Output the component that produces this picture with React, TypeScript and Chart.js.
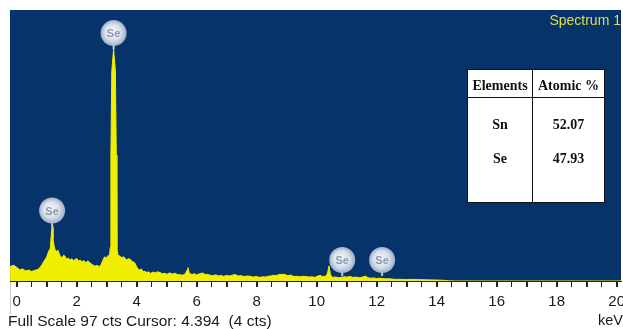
import React, { useEffect, useRef } from "react";
import { Chart, registerables } from "chart.js";

Chart.register(...registerables);

// Spectrum: energies (keV) and counts (cts)
const energies: number[] = [
  -0.22, -0.1, 0.0, 0.1, 0.2, 0.3, 0.4, 0.5, 0.6, 0.7, 0.78, 0.85, 0.94, 1.0, 1.04, 1.08, 1.12, 1.15, 1.18, 1.21,
  1.25, 1.28, 1.33, 1.38, 1.43, 1.48, 1.51, 1.56, 1.61, 1.66, 1.72, 1.78, 1.84, 1.9, 1.96, 2.01, 2.06, 2.12, 2.18,
  2.24, 2.3, 2.38, 2.45, 2.52, 2.61, 2.68, 2.75, 2.82, 2.88, 2.93, 2.98, 3.04, 3.09, 3.12, 3.14, 3.17, 3.23,
  3.29, 3.32, 3.34, 3.38, 3.44, 3.5, 3.55, 3.61, 3.67, 3.72, 3.78, 3.84, 3.9, 3.94, 3.99, 4.04, 4.1, 4.16,
  4.22, 4.28, 4.34, 4.4, 4.46, 4.54, 4.62, 4.7, 4.78, 4.86, 4.94, 5.01, 5.1, 5.2, 5.28, 5.36, 5.45, 5.54, 5.62,
  5.68, 5.71, 5.75, 5.84, 5.92, 6.0, 6.11, 6.2, 6.28, 6.36, 6.44, 6.54, 6.64, 6.72, 6.8, 6.9, 7.0, 7.1, 7.2, 7.28,
  7.38, 7.48, 7.58, 7.68, 7.78, 7.88, 7.98, 8.1, 8.2, 8.28, 8.38, 8.48, 8.56, 8.64, 8.74, 8.84, 8.94, 9.04, 9.14,
  9.24, 9.34, 9.44, 9.54, 9.64, 9.74, 9.84, 9.94, 10.04, 10.11, 10.2, 10.3, 10.36, 10.41, 10.46, 10.52, 10.62,
  10.72, 10.82, 10.92, 11.02, 11.11, 11.2, 11.3, 11.4, 11.5, 11.58, 11.64, 11.7, 11.8, 11.9, 12.0, 12.11, 12.25,
  12.4, 12.6, 12.78, 13.0, 13.2, 13.4, 13.6, 13.78, 14.0, 14.21, 14.4, 14.6, 20.2,
];
const counts: number[] = [
  5.2, 5.6, 4.9, 4.0, 4.3, 3.6, 3.9, 3.4, 3.8, 4.1, 4.8, 6.0, 7.6, 8.6, 9.9, 10.9, 11.7, 16, 19.5, 15,
  12.4, 11.3, 10.5, 11.0, 9.3, 8.6, 8.2, 9.2, 8.9, 7.8, 8.2, 7.5, 8.0, 7.3, 7.8, 8.0, 7.1, 7.5, 6.8,
  7.3, 6.6, 7.2, 6.4, 5.9, 5.3, 5.6, 5.1, 6.0, 7.6, 8.7, 8.1, 9.1, 8.8, 12, 45, 75, 83,
  75, 45, 12, 9.2, 8.9, 8.3, 8.7, 8.2, 7.5, 8.0, 7.8, 7.1, 6.7, 6.4, 5.3, 4.3, 3.9, 4.3,
  3.4, 3.5, 3.0, 3.3, 2.7, 3.2, 2.9, 3.3, 3.0, 2.6, 2.8, 2.4, 2.9, 2.5, 2.8, 2.3, 2.2, 2.1, 2.6,
  3.9, 4.8, 2.9, 2.3, 2.6, 2.2, 2.6, 2.9, 2.3, 2.4, 2.1, 1.9, 2.2, 1.8, 2.0, 1.7, 2.0, 1.8, 2.1, 2.3,
  1.8, 1.9, 1.6, 1.8, 1.7, 1.4, 1.6, 1.3, 1.5, 1.4, 1.7, 1.8, 2.1, 1.9, 2.3, 2.4, 2.3, 1.9, 2.1,
  1.6, 1.7, 1.5, 1.7, 1.6, 1.4, 1.5, 1.3, 1.8, 2.0, 1.6, 1.7, 2.8, 5.4, 2.2, 1.3, 1.4,
  1.2, 1.3, 1.5, 1.4, 1.6, 1.3, 1.4, 1.2, 1.3, 1.6, 1.7, 1.2, 1.0, 1.1, 0.9, 1.0, 0.8,
  0.8, 0.6, 0.6, 0.5, 0.6, 0.5, 0.45, 0.4, 0.35, 0.25, 0.05, 0, 0,
];

// Peak identification markers
const markerEnergies: number[] = [1.18, 3.23, 10.85, 12.18];
const markerLevels: number[] = [19.5, 83, 1.8, 1.8];
const markerLabels: string[] = ["Se", "Se", "Se", "Se"];

// Axis ticks
const tickLabels: number[] = [0, 2, 4, 6, 8, 10, 12, 14, 16, 18, 20];
const fullScale = 97;

// Table
const tableHeaders: string[] = ["Elements", "Atomic %"];
const tableElements: string[] = ["Sn", "Se"];
const tableAtomic: string[] = ["52.07", "47.93"];

const BLUE = "#05336a";
const YELLOW = "#f2ee00";

const bgPlugin = {
  id: "bgPlugin",
  beforeDraw(chart: any) {
    const { ctx, chartArea } = chart;
    ctx.save();
    ctx.fillStyle = BLUE;
    ctx.fillRect(chartArea.left, chartArea.top, chartArea.right - chartArea.left, chartArea.bottom - chartArea.top);
    ctx.strokeStyle = "#c8c8c8";
    ctx.lineWidth = 1;
    ctx.beginPath();
    ctx.moveTo(chartArea.left + 0.5, chartArea.bottom);
    ctx.lineTo(chartArea.left + 0.5, 314);
    ctx.stroke();
    ctx.restore();
  },
};

const markerPlugin = {
  id: "markerPlugin",
  afterDatasetsDraw(chart: any) {
    const { ctx } = chart;
    const xs = chart.scales.x;
    const ys = chart.scales.y;
    const r = 13;
    ctx.save();
    markerEnergies.forEach((e, i) => {
      const px = xs.getPixelForValue(e);
      const py = ys.getPixelForValue(markerLevels[i]);
      const cy = py - 16;
      ctx.strokeStyle = "#c4ccd8";
      ctx.lineWidth = 2;
      ctx.beginPath();
      ctx.moveTo(px, py);
      ctx.lineTo(px, cy + r - 2);
      ctx.stroke();
      const g = ctx.createRadialGradient(px - 2, cy - 2, 1, px, cy, r);
      g.addColorStop(0, "rgba(245,247,252,1)");
      g.addColorStop(0.6, "rgba(214,222,234,1)");
      g.addColorStop(1, "rgba(165,180,202,0.95)");
      ctx.fillStyle = g;
      ctx.beginPath();
      ctx.arc(px, cy, r, 0, Math.PI * 2);
      ctx.fill();
      ctx.fillStyle = "#8c9bb0";
      ctx.font = "bold 11px 'Liberation Sans', Arial, sans-serif";
      ctx.textAlign = "center";
      ctx.textBaseline = "middle";
      ctx.fillText(markerLabels[i], px, cy + 1);
    });
    ctx.restore();
  },
};

export default function App() {
  const ref = useRef<HTMLCanvasElement | null>(null);

  useEffect(() => {
    if (!ref.current) return;
    const data = energies.map((e, i) => ({ x: e, y: counts[i] }));
    const chart = new Chart(ref.current, {
      type: "line",
      data: {
        datasets: [
          {
            data,
            borderColor: YELLOW,
            backgroundColor: YELLOW,
            borderWidth: 1,
            fill: "origin",
            pointRadius: 0,
            tension: 0,
          },
        ],
      },
      options: {
        responsive: false,
        animation: false,
        layout: { padding: { left: 10, right: 2, top: 10, bottom: 0 } },
        plugins: { legend: { display: false }, tooltip: { enabled: false }, title: { display: false } },
        scales: {
          x: {
            type: "linear",
            min: -0.223,
            max: 20.143,
            afterBuildTicks(scale: any) {
              const t: any[] = [];
              for (let v = 0; v <= 40; v++) t.push({ value: v / 2 });
              scale.ticks = t;
            },
            afterFit(scale: any) {
              scale.height = 48;
              scale.paddingLeft = 0;
              scale.paddingRight = 0;
            },
            ticks: {
              autoSkip: false,
              maxRotation: 0,
              padding: 6,
              color: "#1a1a1a",
              font: { family: "'Liberation Sans', Arial, sans-serif", size: 15 },
              callback: (v: any) => (tickLabels.includes(Number(v)) ? String(v) : ""),
            },
            grid: {
              display: true,
              drawOnChartArea: false,
              drawTicks: true,
              tickLength: 6,
              color: "#222",
              lineWidth: (c: any) => (c.tick && Number.isInteger(c.tick.value) ? 2 : 1),
            },
            border: { display: true, color: "#222", width: 1 },
          },
          y: {
            display: false,
            min: 0,
            max: fullScale,
          },
        },
      },
      plugins: [bgPlugin, markerPlugin],
    });
    return () => chart.destroy();
  }, []);

  const sans = "'Liberation Sans', Arial, sans-serif";
  const serif = "'Liberation Serif', 'Times New Roman', serif";
  const cell: React.CSSProperties = {
    position: "absolute",
    textAlign: "center",
    fontFamily: serif,
    fontWeight: "bold",
    fontSize: 14,
    color: "#111",
    lineHeight: "16px",
  };

  return (
    <div style={{ position: "absolute", left: 0, top: 0, width: 623, height: 329, background: "#fff", overflow: "hidden" }}>
      <canvas ref={ref} width={623} height={329} style={{ position: "absolute", left: 0, top: 0 }} />
      <div style={{ position: "absolute", right: 2, top: 12, fontFamily: sans, fontSize: 14, color: "#e2dd4a", lineHeight: "16px" }}>
        Spectrum 1
      </div>
      <div
        style={{
          position: "absolute",
          left: 467,
          top: 69,
          width: 136,
          height: 132,
          background: "#fff",
          border: "1px solid #111",
        }}
      >
        <div style={{ position: "absolute", left: 64, top: 0, width: 1, height: 132, background: "#111" }} />
        <div style={{ position: "absolute", left: 0, top: 27, width: 136, height: 1, background: "#111" }} />
        <div style={{ ...cell, left: 0, width: 64, top: 8 }}>{tableHeaders[0]}</div>
        <div style={{ ...cell, left: 65, width: 71, top: 8 }}>{tableHeaders[1]}</div>
        {tableElements.map((el, i) => (
          <React.Fragment key={el}>
            <div style={{ ...cell, left: 0, width: 64, top: 47 + i * 34 }}>{el}</div>
            <div style={{ ...cell, left: 65, width: 71, top: 47 + i * 34 }}>{tableAtomic[i]}</div>
          </React.Fragment>
        ))}
      </div>
      <div style={{ position: "absolute", left: 8, top: 312, fontFamily: sans, fontSize: 15.5, color: "#1a1a1a", lineHeight: "17px", whiteSpace: "pre" }}>
        {`Full Scale ${fullScale} cts Cursor: 4.394  (4 cts)`}
      </div>
      <div style={{ position: "absolute", right: 0, top: 312, fontFamily: sans, fontSize: 14.5, color: "#1a1a1a", lineHeight: "16px" }}>
        keV
      </div>
    </div>
  );
}
